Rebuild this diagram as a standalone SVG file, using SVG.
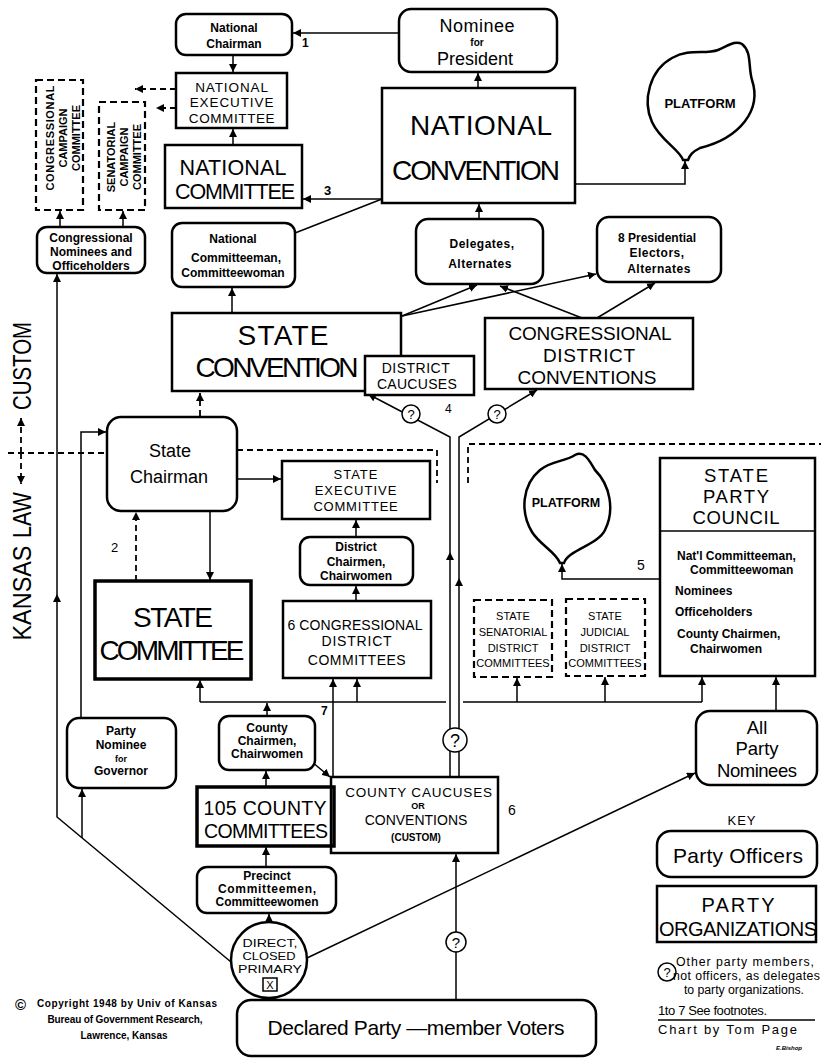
<svg xmlns="http://www.w3.org/2000/svg" width="821" height="1058" viewBox="0 0 821 1058">
<style>
text{font-family:"Liberation Sans",Arial,sans-serif;fill:#000}
.c{text-anchor:middle}
.b{font-weight:bold}
.box{fill:#fff;stroke:#000;stroke-width:2.5}
.thick{stroke-width:3.5}
.dash{fill:#fff;stroke:#000;stroke-width:2.2;stroke-dasharray:7,4}
.ln{fill:none;stroke:#000;stroke-width:1.5}
.dl{fill:none;stroke:#000;stroke-width:1.8;stroke-dasharray:6,4}
.q{fill:#fff;stroke:#000;stroke-width:1.5}
.s{font-size:12px;font-weight:bold}
.m{font-size:14px}
.XL{font-size:28px}
</style>
<defs>
<marker id="a" viewBox="0 0 10 10" refX="10" refY="5" markerWidth="8" markerHeight="8" markerUnits="userSpaceOnUse" orient="auto"><path d="M0,0L10,5L0,10z"/></marker>
</defs>
<rect width="821" height="1058" fill="#fff"/>

<g id="connectors">
<path class="ln" d="M399,33H293" marker-end="url(#a)"/>
<path class="ln" d="M233,55V72" marker-end="url(#a)"/>
<path class="dl" d="M176,89H135" marker-end="url(#a)"/>
<path class="dl" d="M176,108H156" marker-end="url(#a)"/>
<path class="ln" d="M233,145V129" marker-end="url(#a)"/>
<path class="ln" d="M382,199H303" marker-end="url(#a)"/>
<path class="ln" d="M382,199L295,233"/>
<path class="ln" d="M478,88V73" marker-end="url(#a)"/>
<path class="ln" d="M575,184H685V161" marker-end="url(#a)"/>
<path class="ln" d="M479,219V204" marker-end="url(#a)"/>
<path class="ln" d="M60,227V211" marker-end="url(#a)"/>
<path class="ln" d="M123,227V211" marker-end="url(#a)"/>
<path class="ln" d="M231,962L57,817V594" marker-end="url(#a)"/>
<path class="ln" d="M57,594V274" marker-end="url(#a)"/>
<path class="ln" d="M82,838V789" marker-end="url(#a)"/>
<path class="ln" d="M81,718V432H106" marker-end="url(#a)"/>
<path class="ln" d="M232,313V288" marker-end="url(#a)"/>
<path class="ln" d="M402,316L477,285" marker-end="url(#a)"/>
<path class="ln" d="M402,316L596,274" marker-end="url(#a)"/>
<path class="ln" d="M582,318L500,286" marker-end="url(#a)"/>
<path class="ln" d="M597,318L655,283" marker-end="url(#a)"/>
<path class="dl" d="M200,416V393" marker-end="url(#a)"/>
<path class="ln" d="M237,479H281" marker-end="url(#a)"/>
<path class="ln" d="M210,511V580" marker-end="url(#a)"/>
<path class="dl" d="M136,581V512" marker-end="url(#a)"/>
<path class="ln" d="M356,537V520" marker-end="url(#a)"/>
<path class="ln" d="M356,601V586" marker-end="url(#a)"/>
<path class="ln" d="M200,702H446M463,702H702"/>
<path class="ln" d="M200,702V680" marker-end="url(#a)"/>
<path class="ln" d="M357,702V679" marker-end="url(#a)"/>
<path class="ln" d="M517,702V678" marker-end="url(#a)"/>
<path class="ln" d="M605,702V677" marker-end="url(#a)"/>
<path class="ln" d="M702,702V677" marker-end="url(#a)"/>
<path class="ln" d="M267,716V703" marker-end="url(#a)"/>
<path class="ln" d="M333,777V679" marker-end="url(#a)"/>
<path class="ln" d="M312,762L330,777" marker-end="url(#a)"/>
<path class="ln" d="M266,787V771" marker-end="url(#a)"/>
<path class="ln" d="M266,867V847" marker-end="url(#a)"/>
<path class="ln" d="M269,922V914" marker-end="url(#a)"/>
<path class="ln" d="M307,958L695,773" marker-end="url(#a)"/>
<path class="ln" d="M456,1000V854" marker-end="url(#a)"/>
<path class="ln" d="M776,711V677" marker-end="url(#a)"/>
<path class="ln" d="M450,777V552" marker-end="url(#a)"/>
<path class="ln" d="M450,552V437L368,394" marker-end="url(#a)"/>
<path class="ln" d="M459,777V578" marker-end="url(#a)"/>
<path class="ln" d="M459,578V437L537,390" marker-end="url(#a)"/>
<path class="ln" d="M660,579H562V564" marker-end="url(#a)"/>
<path class="dl" d="M8,453H107"/>
<path class="dl" d="M237,450H437V483"/>
<path class="dl" d="M468,483V444H821"/>
<path class="dl" d="M21,453V418" marker-end="url(#a)"/>
<path class="dl" d="M21,453V484" marker-end="url(#a)"/>
</g>

<g id="kansas-label">
<text font-size="26" transform="translate(31,366) rotate(-90)" text-anchor="middle" textLength="88" lengthAdjust="spacingAndGlyphs">CUSTOM</text>
<text font-size="26" transform="translate(31,515) rotate(-90)" text-anchor="middle" textLength="46" lengthAdjust="spacingAndGlyphs">LAW</text>
<text font-size="26" transform="translate(31,593) rotate(-90)" text-anchor="middle" textLength="95" lengthAdjust="spacingAndGlyphs">KANSAS</text>
</g>

<g id="national-chairman">
<rect class="box" x="176" y="14" width="116" height="41" rx="10"/>
<text class="c s" x="234" y="32" font-size="12.5">National</text>
<text class="c s" x="234" y="48" font-size="13">Chairman</text>
</g>
<g id="nominee-president">
<rect class="box" x="399" y="9" width="158" height="63" rx="12"/>
<text class="c" x="477" y="32" font-size="18" textLength="75">Nominee</text>
<text class="c b" x="477" y="46" font-size="10">for</text>
<text class="c" x="475" y="65" font-size="18" textLength="76">President</text>
</g>
<g id="national-executive-committee">
<rect class="box" x="176" y="73" width="111" height="55"/>
<text class="c" x="232" y="92" font-size="13.5" letter-spacing="0.9">NATIONAL</text>
<text class="c" x="232" y="107" font-size="13.5" letter-spacing="0.9">EXECUTIVE</text>
<text class="c" x="232" y="123" font-size="13.5" letter-spacing="0.6">COMMITTEE</text>
</g>
<g id="national-committee">
<rect class="box" x="165" y="145" width="137" height="63"/>
<text class="c" x="233" y="175" font-size="21.5" textLength="107">NATIONAL</text>
<text class="c" x="235" y="199" font-size="21.5" textLength="120">COMMITTEE</text>
</g>
<g id="national-convention">
<rect class="box" x="382" y="88" width="193" height="115"/>
<text class="c XL" x="481" y="135" textLength="142">NATIONAL</text>
<text class="c XL" x="476" y="180" textLength="168">CONVENTION</text>
</g>
<g id="platform-national">
<path class="box" d="M683,160C680,150 660,140 652,122C642,100 650,70 672,58C690,48 705,55 718,50C728,46 735,40 742,44C752,52 748,66 752,80C762,110 740,138 700,148C692,152 690,155 688,160Z"/>
<text class="c b" x="700" y="108" font-size="13">PLATFORM</text>
</g>
<g id="congressional-campaign-committee">
<rect class="dash" x="36" y="80" width="47" height="130"/>
<text class="c b" font-size="11" transform="translate(54,138) rotate(-90)" textLength="105">CONGRESSIONAL</text>
<text class="c b" font-size="11" transform="translate(67,138) rotate(-90)">CAMPAIGN</text>
<text class="c b" font-size="11" transform="translate(80,138) rotate(-90)">COMMITTEE</text>
</g>
<g id="senatorial-campaign-committee">
<rect class="dash" x="99" y="102" width="46" height="108"/>
<text class="c b" font-size="11" transform="translate(115,157) rotate(-90)">SENATORIAL</text>
<text class="c b" font-size="11" transform="translate(128,157) rotate(-90)">CAMPAIGN</text>
<text class="c b" font-size="11" transform="translate(141,157) rotate(-90)">COMMITTEE</text>
</g>
<g id="congressional-nominees">
<rect class="box" x="37" y="227" width="108" height="46" rx="10"/>
<text class="c s" x="91" y="242" font-size="11.5">Congressional</text>
<text class="c s" x="91" y="256" font-size="11.5">Nominees and</text>
<text class="c s" x="91" y="270" font-size="11.5">Officeholders</text>
</g>
<g id="national-committeeman">
<rect class="box" x="172" y="223" width="123" height="64" rx="10"/>
<text class="c s" x="233" y="243">National</text>
<text class="c s" x="236" y="262">Committeeman,</text>
<text class="c s" x="233" y="277">Committeewoman</text>
</g>
<g id="delegates">
<rect class="box" x="416" y="219" width="127" height="65" rx="12"/>
<text class="c s" x="482" y="248" font-size="13" letter-spacing="0.5">Delegates,</text>
<text class="c s" x="480" y="268" font-size="13" letter-spacing="0.5">Alternates</text>
</g>
<g id="presidential-electors">
<rect class="box" x="597" y="217" width="124" height="65" rx="12"/>
<text class="c s" x="657" y="242" font-size="13">8 Presidential</text>
<text class="c s" x="657" y="257" font-size="13" letter-spacing="0.5">Electors,</text>
<text class="c s" x="659" y="273" font-size="13" letter-spacing="0.5">Alternates</text>
</g>
<g id="state-convention">
<rect class="box" x="172" y="313" width="229" height="78"/>
<text class="c XL" x="283" y="345" textLength="91">STATE</text>
<text class="c XL" x="277" y="377" textLength="163">CONVENTION</text>
</g>
<g id="district-caucuses">
<rect class="box" x="365" y="356" width="109" height="39"/>
<text class="c m" x="416" y="373" letter-spacing="0.5">DISTRICT</text>
<text class="c m" x="417" y="389" letter-spacing="0.3">CAUCUSES</text>
</g>
<g id="congressional-district-conventions">
<rect class="box" x="485" y="318" width="208" height="71"/>
<text class="c" x="590" y="340" font-size="19" textLength="163">CONGRESSIONAL</text>
<text class="c" x="589" y="362" font-size="19" textLength="92">DISTRICT</text>
<text class="c" x="587" y="384" font-size="19" textLength="139">CONVENTIONS</text>
</g>
<g id="state-chairman">
<rect class="box" x="107" y="417" width="130" height="94" rx="14"/>
<text class="c" x="170" y="457" font-size="18">State</text>
<text class="c" x="169" y="483" font-size="18">Chairman</text>
</g>
<g id="state-executive-committee">
<rect class="box" x="282" y="461" width="148" height="58"/>
<text class="c" x="356" y="479" font-size="13" letter-spacing="1">STATE</text>
<text class="c" x="356" y="495" font-size="13" letter-spacing="1">EXECUTIVE</text>
<text class="c" x="356" y="511" font-size="13" letter-spacing="0.8">COMMITTEE</text>
</g>
<g id="district-chairmen">
<rect class="box" x="300" y="537" width="113" height="48" rx="10"/>
<text class="c s" x="356" y="551" font-size="11.5">District</text>
<text class="c s" x="356" y="566" font-size="11.5">Chairmen,</text>
<text class="c s" x="356" y="580" font-size="11.5">Chairwomen</text>
</g>
<g id="state-committee">
<rect class="box thick" x="95" y="581" width="156" height="98"/>
<text class="c XL" x="173" y="627" textLength="80">STATE</text>
<text class="c XL" x="172" y="660" textLength="145">COMMITTEE</text>
</g>
<g id="congressional-district-committees">
<rect class="box" x="283" y="601" width="148" height="77"/>
<text class="c m" x="355" y="630" textLength="135">6 CONGRESSIONAL</text>
<text class="c m" x="357" y="646" letter-spacing="0.8">DISTRICT</text>
<text class="c m" x="357" y="665" letter-spacing="0.5">COMMITTEES</text>
</g>
<g id="platform-state">
<path class="box" d="M560,563C556,552 540,545 532,532C520,512 522,485 540,470C552,460 565,462 575,455C585,450 590,462 595,470C610,485 615,510 605,530C598,545 568,550 564,563Z"/>
<text class="c b" x="566" y="507" font-size="12.5">PLATFORM</text>
</g>
<g id="state-party-council">
<rect class="box" x="660" y="458" width="155" height="218"/>
<path class="ln" d="M660,531H815" stroke-width="2.5"/>
<text class="c" x="736" y="482" font-size="18.5" textLength="64">STATE</text>
<text class="c" x="736" y="503" font-size="18.5" textLength="66">PARTY</text>
<text class="c" x="736" y="524" font-size="18.5" textLength="87">COUNCIL</text>
<text class="s" x="677" y="560">Nat'l  Committeeman,</text>
<text class="s" x="690" y="574">Committeewoman</text>
<text class="s" x="675" y="595">Nominees</text>
<text class="s" x="675" y="616">Officeholders</text>
<text class="s" x="677" y="638">County  Chairmen,</text>
<text class="s" x="690" y="653">Chairwomen</text>
</g>
<g id="state-senatorial-district-committees">
<rect class="dash" x="474" y="600" width="78" height="77"/>
<text class="c" x="513" y="620" font-size="11">STATE</text>
<text class="c" x="513" y="636" font-size="11">SENATORIAL</text>
<text class="c" x="513" y="652" font-size="11">DISTRICT</text>
<text class="c" x="513" y="667" font-size="11">COMMITTEES</text>
</g>
<g id="state-judicial-district-committees">
<rect class="dash" x="566" y="599" width="79" height="77"/>
<text class="c" x="605" y="620" font-size="11">STATE</text>
<text class="c" x="605" y="636" font-size="11">JUDICIAL</text>
<text class="c" x="605" y="652" font-size="11">DISTRICT</text>
<text class="c" x="605" y="667" font-size="11">COMMITTEES</text>
</g>
<g id="party-nominee-governor">
<rect class="box" x="67" y="718" width="109" height="70" rx="12"/>
<text class="c s" x="121" y="735">Party</text>
<text class="c s" x="121" y="749">Nominee</text>
<text class="c b" x="121" y="762" font-size="9">for</text>
<text class="c s" x="121" y="775">Governor</text>
</g>
<g id="county-chairmen">
<rect class="box" x="219" y="716" width="96" height="54" rx="10"/>
<text class="c s" x="267" y="732" font-size="11">County</text>
<text class="c s" x="267" y="745" font-size="11">Chairmen,</text>
<text class="c s" x="267" y="758" font-size="11">Chairwomen</text>
</g>
<g id="county-caucuses">
<rect class="box" x="331" y="777" width="167" height="76"/>
<text class="c" x="419" y="797" font-size="13.5" letter-spacing="0.8">COUNTY  CAUCUSES</text>
<text class="c b" x="418" y="809" font-size="9">OR</text>
<text class="c" x="416" y="825" font-size="14">CONVENTIONS</text>
<text class="c b" x="416" y="841" font-size="10">(CUSTOM)</text>
</g>
<g id="county-committees">
<rect class="box thick" x="197" y="787" width="137" height="59" style="fill:none"/>
<text class="c" x="265" y="815" font-size="19.5" textLength="123">105 COUNTY</text>
<text class="c" x="266" y="838" font-size="19.5" textLength="124">COMMITTEES</text>
</g>
<g id="precinct-committeemen">
<rect class="box" x="197" y="867" width="139" height="46" rx="10"/>
<text class="c s" x="267" y="880" font-size="11">Precinct</text>
<text class="c s" x="267" y="893" font-size="11" textLength="98">Committeemen,</text>
<text class="c s" x="267" y="906" font-size="11" textLength="103">Committeewomen</text>
</g>
<g id="direct-closed-primary">
<circle class="box" cx="269" cy="960" r="38"/>
<text class="c" x="270" y="947" font-size="11.5" textLength="55" lengthAdjust="spacingAndGlyphs">DIRECT,</text>
<text class="c" x="269" y="960" font-size="11.5" textLength="53" lengthAdjust="spacingAndGlyphs">CLOSED</text>
<text class="c" x="270" y="973" font-size="11.5" textLength="64" lengthAdjust="spacingAndGlyphs">PRIMARY</text>
<rect x="263" y="978" width="14" height="13" fill="#fff" stroke="#000" stroke-width="1.5"/>
<text class="c" x="270" y="989" font-size="11">X</text>
</g>
<g id="declared-voters">
<rect class="box" x="237" y="1000" width="359" height="56" rx="14"/>
<text class="c" x="416" y="1035" font-size="21" textLength="297">Declared  Party —member  Voters</text>
</g>
<g id="all-party-nominees">
<rect class="box" x="696" y="711" width="121" height="74" rx="14"/>
<text class="c" x="757" y="734" font-size="18.5">All</text>
<text class="c" x="757" y="755" font-size="18.5">Party</text>
<text class="c" x="757" y="777" font-size="18.5" textLength="80">Nominees</text>
</g>

<g id="question-marks">
<circle class="q" cx="411" cy="414" r="9"/><text class="c" x="411" y="419" font-size="13">?</text>
<circle class="q" cx="497" cy="414" r="9"/><text class="c" x="497" y="419" font-size="13">?</text>
<circle class="q" cx="455" cy="740" r="12"/><text class="c" x="455" y="747" font-size="18">?</text>
<circle class="q" cx="456" cy="942" r="10"/><text class="c" x="456" y="948" font-size="15">?</text>
</g>

<g id="numbers">
<text class="b" x="302" y="47" font-size="12">1</text>
<text class="b" x="324" y="195" font-size="13">3</text>
<text x="445" y="413" font-size="12">4</text>
<text x="111" y="552" font-size="13">2</text>
<text x="637" y="570" font-size="14">5</text>
<text class="b" x="321" y="715" font-size="12">7</text>
<text x="508" y="815" font-size="14">6</text>
</g>

<g id="key">
<text class="c" x="742" y="825" font-size="13" letter-spacing="1">KEY</text>
<rect class="box" x="657" y="831" width="160" height="46" rx="14"/>
<text class="c" x="738" y="863" font-size="21" textLength="130">Party  Officers</text>
<rect class="box" x="657" y="886" width="159" height="56"/>
<text class="c" x="738" y="912" font-size="20" textLength="73">PARTY</text>
<text class="c" x="738" y="936" font-size="20" textLength="158">ORGANIZATIONS</text>
<circle class="q" cx="667" cy="972" r="9"/><text class="c" x="667" y="977" font-size="13">?</text>
<text x="676" y="966" font-size="12.3" textLength="138">Other party members,</text>
<text x="673" y="980" font-size="12.3" textLength="147">not officers, as delegates</text>
<text x="684" y="994" font-size="12.3" textLength="120">to party organizations.</text>
<text x="658" y="1015" font-size="13" textLength="109">1to 7  See  footnotes.</text>
<path class="ln" d="M658,1020H815"/>
<text x="658" y="1034" font-size="13" textLength="139">Chart  by  Tom  Page</text>
<text x="776" y="1050" font-size="6" font-style="italic" font-weight="bold">E.Bishop</text>
</g>

<g id="copyright">
<text x="15" y="1010" font-size="15" font-weight="bold">©</text>
<text class="b" x="37" y="1007" font-size="10" textLength="180">Copyright  1948  by  Univ  of  Kansas</text>
<text class="c b" x="125" y="1023" font-size="10" textLength="155">Bureau  of  Government  Research,</text>
<text class="c b" x="124" y="1039" font-size="10" textLength="87">Lawrence,  Kansas</text>
</g>
</svg>
